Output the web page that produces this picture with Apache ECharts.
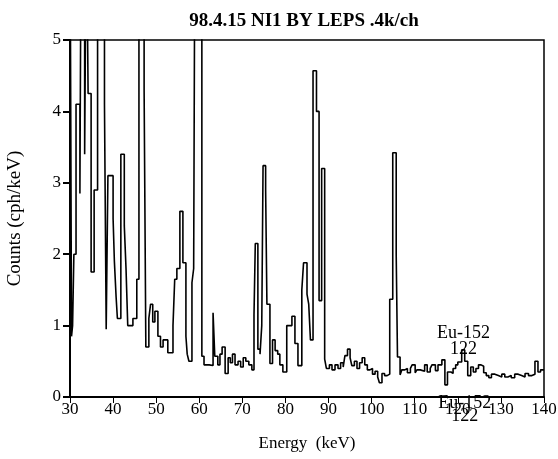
<!DOCTYPE html>
<html>
<head>
<meta charset="utf-8">
<script src="https://cdn.jsdelivr.net/npm/echarts@6/dist/echarts.min.js"></script>
<style>
    html, body { margin: 0; padding: 0; background: #fff; }
    #chart { width: 558px; height: 459px; }
</style>
</head>
<body>
<div id="chart"></div>
<script>
/* ===================== 数据 ===================== */
// step start energy of each bin (keV)
var energy = [
    30.0, 30.35, 30.6, 30.9, 31.4, 32.3, 32.6, 33.4, 33.8, 34.2,
    34.9, 35.6, 36.4, 38.0, 38.4, 38.8, 40.0, 40.3, 40.7, 41.0,
    41.8, 42.6, 43.0, 43.4, 44.6, 45.5, 46.0, 47.2, 47.6, 48.3,
    48.7, 49.2, 49.7, 50.4, 51.0, 51.6, 52.7, 53.9, 54.3, 54.8,
    55.5, 56.2, 56.9, 57.2, 57.6, 58.3, 58.7, 59.0, 60.6, 61.1,
    62.3, 63.2, 63.6, 64.3, 64.8, 65.3, 66.0, 66.7, 67.2, 67.7,
    68.3, 69.0, 69.6, 70.2, 70.8, 71.5, 72.2, 72.7, 73.0, 73.6,
    74.1, 74.5, 74.8, 75.4, 75.7, 76.4, 77.0, 77.6, 78.2, 78.7,
    79.4, 80.3, 81.5, 82.2, 82.9, 83.8, 84.2, 85.0, 85.4, 85.8,
    86.4, 87.2, 87.8, 88.4, 89.1, 89.5, 90.2, 90.8, 91.5, 92.2,
    92.8, 93.4, 93.8, 94.4, 95.0, 95.4, 96.0, 96.6, 97.2, 97.8,
    98.4, 99.0, 99.6, 100.2, 100.8, 101.4, 101.8, 102.4, 103.0, 103.6,
    104.2, 104.9, 105.7, 106.0, 106.6, 107.0, 107.7, 108.3, 109.0, 109.4,
    110.1, 110.5, 111.3, 112.3, 112.9, 113.6, 114.0, 114.8, 115.4, 116.3,
    117.0, 117.6, 118.4, 118.9, 119.5, 120.0, 120.9, 121.6, 122.3, 123.0,
    123.6, 124.2, 124.8, 125.4, 126.0, 126.6, 127.2, 127.8, 128.6, 129.4,
    130.2, 130.9, 131.6, 132.4, 133.2, 134.0, 134.8, 135.6, 136.4, 137.2,
    137.9, 138.6, 139.2, 140.0
];
// counts (cph/keV), values above 5 run off the top of the plot
var counts = [
    7, 0.85, 1.0, 2.0, 4.1, 2.85, 7, 3.4, 7, 4.25,
    1.75, 2.9, 7, 4.1, 0.95, 3.1, 2.5, 1.9, 1.4, 1.1,
    3.4, 2.4, 1.8, 1.0, 1.1, 1.65, 7, 4.3, 0.7, 1.1,
    1.3, 1.05, 1.2, 0.85, 0.7, 0.8, 0.62, 1.0, 1.65, 1.8,
    2.6, 1.88, 0.85, 0.6, 0.5, 1.6, 1.8, 7, 0.57, 0.45,
    0.44, 1.18, 0.57, 0.45, 0.6, 0.7, 0.33, 0.55, 0.48, 0.6,
    0.45, 0.5, 0.42, 0.55, 0.5, 0.45, 0.38, 1.15, 2.15, 0.67,
    0.6, 1.0, 3.24, 2.9, 1.3, 0.47, 0.8, 0.65, 0.6, 0.45,
    0.35, 1.0, 1.13, 0.75, 0.44, 1.5, 1.88, 1.44, 1.3, 0.8,
    4.57, 4.0, 1.35, 3.2, 0.53, 0.4, 0.45, 0.38, 0.45, 0.4,
    0.48, 0.42, 0.58, 0.67, 0.55, 0.44, 0.5, 0.4, 0.48, 0.55,
    0.45, 0.38, 0.4, 0.32, 0.36, 0.28, 0.2, 0.33, 0.3, 0.32,
    1.37, 3.42, 2.0, 0.56, 0.31, 0.38, 0.4, 0.34, 0.4, 0.45,
    0.34, 0.38, 0.36, 0.45, 0.35, 0.4, 0.45, 0.37, 0.45, 0.52,
    0.17, 0.35, 0.33, 0.4, 0.45, 0.49, 0.66, 0.5, 0.3, 0.42,
    0.35, 0.4, 0.45, 0.43, 0.34, 0.3, 0.27, 0.32, 0.3, 0.28,
    0.32, 0.28, 0.3, 0.27, 0.32, 0.3, 0.28, 0.33, 0.3, 0.32,
    0.5, 0.35, 0.38, 0.38
];
var xTicks = [30, 40, 50, 60, 70, 80, 90, 100, 110, 120, 130, 140];
var yTicks = [0, 1, 2, 3, 4, 5];
var peakLabel = { name: 'Eu-152', energy: 122, at: [121.3, 0.66] };
/* ===================== end ===================== */

var serif = '"Liberation Serif", "DejaVu Serif", serif';
var spectrum = energy.map(function (e, i) { return [e, counts[i]]; });
var peakText = peakLabel.name + '\n' + peakLabel.energy;

var chart = echarts.init(document.getElementById('chart'));
chart.setOption({
    animation: false,
    title: {
        text: '98.4.15 NI1 BY LEPS .4k/ch',
        left: 299,
        textAlign: 'center',
        top: 7,
        textStyle: { fontFamily: serif, fontSize: 19, fontWeight: 'bold', color: '#000' }
    },
    grid: {
        left: 70, right: 14, top: 40, bottom: 62,
        outerBoundsMode: 'none',
        containLabel: false,
        show: true, borderColor: '#000', borderWidth: 1.5
    },
    xAxis: {
        type: 'value',
        min: xTicks[0], max: xTicks[xTicks.length - 1], interval: 10,
        name: 'Energy  (keV)',
        nameLocation: 'middle',
        nameGap: 38,
        nameTextStyle: { fontFamily: serif, fontSize: 17, color: '#000' },
        axisLine: { lineStyle: { color: '#000', width: 2 } },
        axisTick: { inside: false, length: 6, lineStyle: { color: '#000', width: 1 } },
        axisLabel: { fontFamily: serif, fontSize: 17, color: '#000', margin: 4 },
        splitLine: { show: false }
    },
    yAxis: {
        type: 'value',
        min: yTicks[0], max: yTicks[yTicks.length - 1], interval: 1,
        name: 'Counts (cph/keV)',
        nameLocation: 'middle',
        nameGap: 45,
        nameTextStyle: { fontFamily: serif, fontSize: 19, color: '#000' },
        axisLine: { show: true, lineStyle: { color: '#000', width: 2 } },
        axisTick: { show: true, length: 7, lineStyle: { color: '#000', width: 2 } },
        axisLabel: { fontFamily: serif, fontSize: 17, color: '#000', margin: 9 },
        splitLine: { show: false }
    },
    series: [{
        type: 'line',
        step: 'end',
        data: spectrum,
        symbol: 'none',
        clip: true,
        lineStyle: { color: '#000', width: 1.6 }
    }, {
        // peak annotations (one above the peak, one repeated under the axis)
        type: 'scatter',
        clip: false,
        silent: true,
        symbolSize: 0,
        z: 5,
        itemStyle: { opacity: 1 },
        label: {
            show: true, position: 'inside', formatter: peakText,
            fontFamily: serif, fontSize: 18, color: '#000', align: 'center'
        },
        data: [
            { value: peakLabel.at, label: { offset: [0, -9], lineHeight: 16 } },
            { value: [peakLabel.at[0] + 0.3, 0], label: { offset: [0, 13], lineHeight: 13 } }
        ]
    }]
});
</script>
</body>
</html>
